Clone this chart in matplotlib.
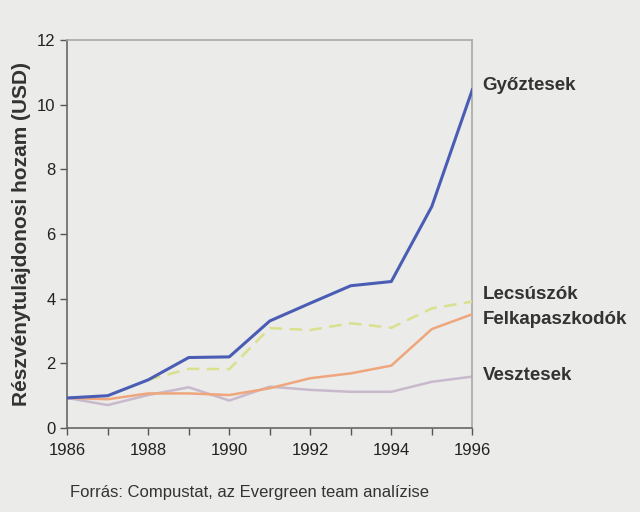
import matplotlib
matplotlib.use("Agg")
import matplotlib.pyplot as plt

plt.rcParams['font.family'] = ['Liberation Sans', 'DejaVu Sans']

years = [1986, 1987, 1988, 1989, 1990, 1991, 1992, 1993, 1994, 1995, 1996]
gyoztesek = [0.93, 1.0, 1.49, 2.18, 2.2, 3.31, 3.86, 4.4, 4.53, 6.85, 10.46]
lecsuszok_years = [1988, 1989, 1990, 1991, 1992, 1993, 1994, 1995, 1996]
lecsuszok = [1.49, 1.83, 1.82, 3.09, 3.03, 3.24, 3.1, 3.7, 3.91]
felkapaszkodok = [0.93, 0.89, 1.07, 1.07, 1.02, 1.23, 1.54, 1.69, 1.93, 3.06, 3.52]
vesztesek = [0.93, 0.71, 1.02, 1.26, 0.85, 1.28, 1.18, 1.12, 1.12, 1.43, 1.59]

labels = ["Győztesek", "Lecsúszók", "Felkapaszkodók", "Vesztesek"]
label_y = [10.6, 4.12, 3.35, 1.62]

bg = '#ebebe9'
fig = plt.figure(figsize=(6.4, 5.12), dpi=100, facecolor=bg)
ax = fig.add_axes([0.105, 0.164, 0.633, 0.758], facecolor=bg)

ax.plot(years, vesztesek, color='#c9b9cc', lw=1.8, zorder=2)
ax.plot(years, felkapaszkodok, color='#efa67c', lw=1.8, zorder=3)
ax.plot(lecsuszok_years, lecsuszok, color='#d9e08e', lw=1.8, ls=(0, (5, 3)), zorder=4)
ax.plot(years, gyoztesek, color='#4a5db5', lw=2.2, zorder=5)

ax.set_xlim(1986, 1996)
ax.set_ylim(0, 12)
ax.set_xticks(range(1986, 1997))
ax.set_xticklabels([str(y) if y % 2 == 0 else '' for y in range(1986, 1997)])
ax.set_yticks(range(0, 13, 2))
ax.tick_params(axis='both', colors='#555555', labelcolor='#222222', labelsize=12, length=5, width=1)
ax.tick_params(axis='x', pad=6)

for side in ['top', 'right']:
    ax.spines[side].set_color('#a8a8a8')
    ax.spines[side].set_linewidth(1.2)
for side in ['left', 'bottom']:
    ax.spines[side].set_color('#666666')
    ax.spines[side].set_linewidth(1.2)

ax.set_ylabel('Részvénytulajdonosi hozam (USD)', fontsize=15, color='#333333', fontweight='bold',
              labelpad=4)

for lab, yv in zip(labels, label_y):
    ax.text(1996.25, yv, lab, fontsize=13.5, color='#333333', fontweight='bold', va='center', ha='left',
            clip_on=False)

fig.text(0.39, 0.038, 'Forrás: Compustat, az Evergreen team analízise', fontsize=12, color='#333333',
         ha='center', va='center')

fig.savefig('out.png', dpi=100, facecolor=bg)
